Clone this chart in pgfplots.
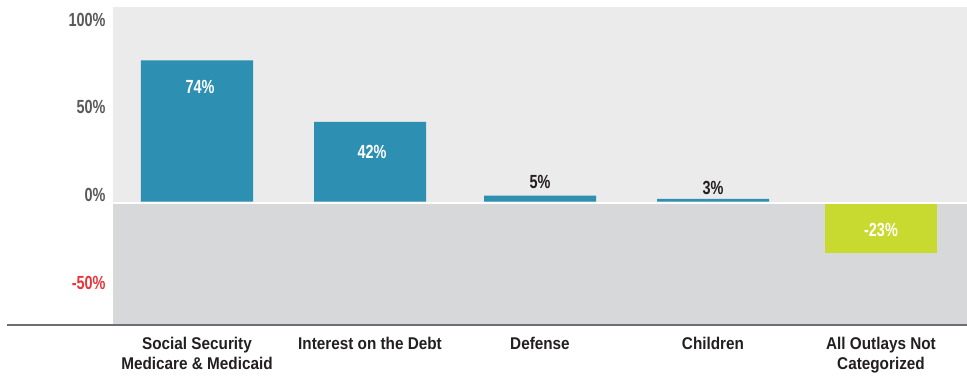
\documentclass[border=0pt]{standalone}
\usepackage{fontspec}
\setmainfont{Liberation Sans}
\newfontfamily\condfont{Liberation Sans}[FakeStretch=0.76]
\newfontfamily\catfont{Liberation Sans}[FakeStretch=0.9]
\usepackage{pgfplots}
\pgfplotsset{compat=1.18}
\definecolor{teal}{HTML}{2D8FB1}
\definecolor{lime}{HTML}{C8DA2F}
\definecolor{lightbg}{HTML}{EBEBEB}
\definecolor{darkbg}{HTML}{D7D8DA}
\definecolor{ticktext}{HTML}{58595B}
\definecolor{negred}{HTML}{E8343B}
\definecolor{basel}{HTML}{6D6E71}
\definecolor{darktext}{HTML}{231F20}
\begin{document}
\begin{tikzpicture}
\path[use as bounding box] (-113pt,-52pt) rectangle (854pt,325pt);
\begin{axis}[
  scale only axis,
  width=854pt, height=318.3pt,
  xmin=113, xmax=967,
  ymin=-64.6, ymax=102.1,
  axis line style={draw=none},
  major tick length=0pt,
  ytick={95.1,49.6,3.5,-42.6},
  yticklabels={100\%,50\%,0\%,\textcolor{negred}{-50\%}},
  yticklabel style={font=\condfont\bfseries\fontsize{19}{21}\selectfont, text=ticktext, xshift=-4pt},
  xtick={197,370,540,713,881},
  xticklabels={Social Security\\Medicare \& Medicaid, Interest on the Debt, Defense, Children, All Outlays Not\\Categorized},
  xticklabel style={font=\catfont\bfseries\fontsize{17}{20}\selectfont, text=darktext, align=center, anchor=north, yshift=-9pt},
  clip=false,
]
\fill[lightbg] (axis cs:113,0) rectangle (axis cs:967,102.1);
\fill[darkbg] (axis cs:113,-1.2) rectangle (axis cs:967,-64.6);
\addplot[ybar, bar width=112, bar shift=0pt, fill=teal, draw=none] coordinates {(197,74) (370,41.8) (540,3.1) (713,1.4)};
\addplot[ybar, bar width=112, bar shift=0pt, fill=lime, draw=none] coordinates {(881,-26.7)};
\fill[white] (axis cs:113,0) rectangle (axis cs:967,-1.2);
\node[text=white, font=\condfont\bfseries\fontsize{19}{21}\selectfont] at (axis cs:200,60.2) {74\%};
\node[text=white, font=\condfont\bfseries\fontsize{19}{21}\selectfont] at (axis cs:372,26.2) {42\%};
\node[text=darktext, font=\condfont\bfseries\fontsize{19}{21}\selectfont] at (axis cs:540,10.5) {5\%};
\node[text=darktext, font=\condfont\bfseries\fontsize{19}{21}\selectfont] at (axis cs:713,7.2) {3\%};
\node[text=white, font=\condfont\bfseries\fontsize{19}{21}\selectfont] at (axis cs:881,-14.8) {-23\%};
\end{axis}
\draw[basel, line width=2.2pt] (-106pt,0) -- (854pt,0);
\end{tikzpicture}
\end{document}
